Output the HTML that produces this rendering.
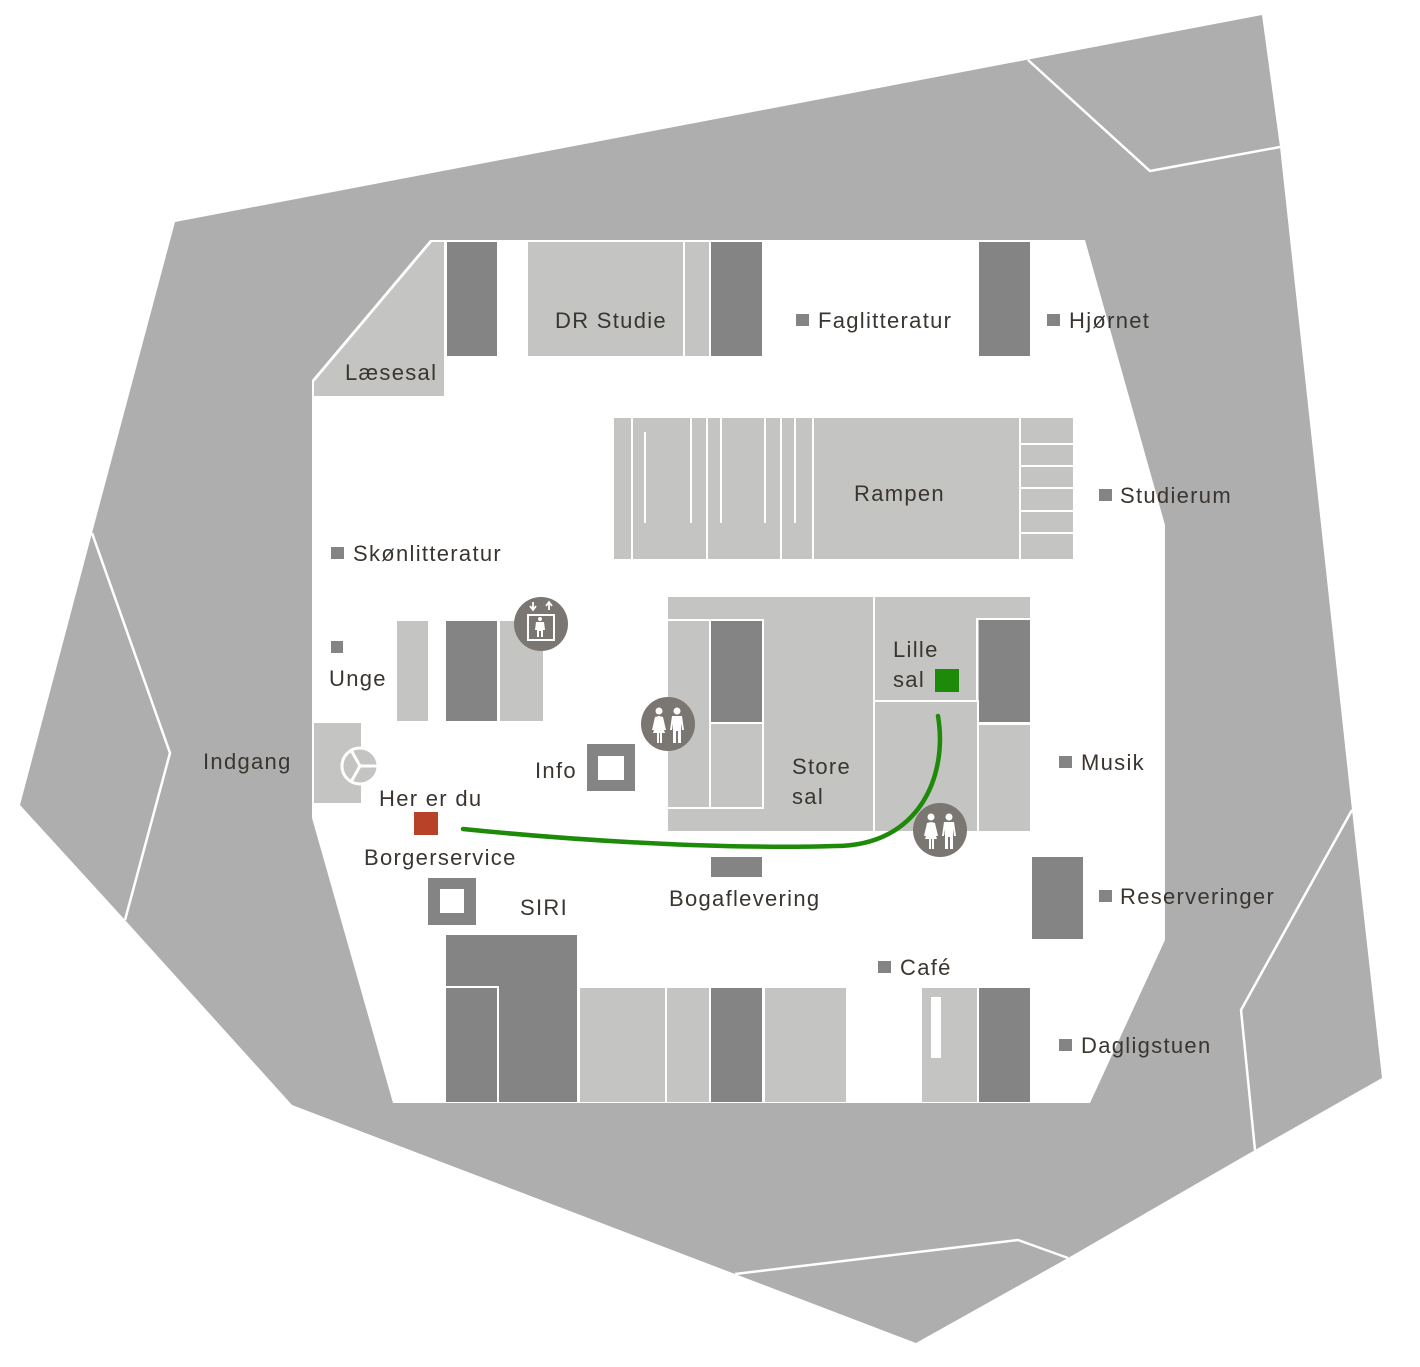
<!DOCTYPE html>
<html><head><meta charset="utf-8"><style>
html,body{margin:0;padding:0;background:#fff}
svg{display:block}
text{font-family:"Liberation Sans",sans-serif;font-size:22px;fill:#3a3530;letter-spacing:1.3px}
</style></head><body>
<svg width="1420" height="1367" viewBox="0 0 1420 1367" xmlns="http://www.w3.org/2000/svg">
<defs>
<g id="wc">
<circle r="27" fill="#7a7672"/>
<circle cx="-9" cy="-13" r="3.5" fill="#fff"/>
<path d="M-9,-8 L-13,-7 L-16,6 L-13,6 L-12,0 L-15,9 L-11,9 L-11,19 L-9,19 L-9,9 L-8,9 L-8,19 L-6,19 L-6,9 L-3,9 L-6,0 L-5,6 L-2,6 L-5,-7 Z" fill="#fff"/>
<circle cx="9" cy="-13" r="3.5" fill="#fff"/>
<path d="M4,-8 L14,-8 L16,6 L14,6 L13,-1 L13,19 L10,19 L10,7 L8,7 L8,19 L5,19 L5,-1 L4,6 L2,6 Z" fill="#fff"/>
</g>
</defs>
<polygon points="175,222 1262,15 1280,147 1352,810 1382,1078 1255,1150 1068,1258 916,1343 735,1274 292,1105 125,920 20,805 92,533" fill="#aeaeae"/>
<g fill="none" stroke="#fff" stroke-width="2.5">
<polyline points="1028,60 1150,171 1280,147"/>
<polyline points="92,533 170,753 125,920"/>
<polyline points="1352,810 1241,1010 1255,1150"/>
<polyline points="735,1274 1018,1240 1068,1258"/>
</g>
<polygon points="430,240 1085,240 1165,525 1165,940 1090,1103 393,1103 312,818 312,380" fill="#fff"/>
<polygon points="314,382 432,242 444,242 444,396 314,396" fill="#c4c4c2"/>
<g fill="#848484">
<rect x="447" y="242" width="50" height="114"/>
<rect x="711" y="242" width="51" height="114"/>
<rect x="979" y="242" width="51" height="114"/>
</g>
<g fill="#c4c4c2">
<rect x="528" y="242" width="155" height="114"/>
<rect x="685" y="242" width="24" height="114"/>
</g>
<rect x="614" y="418" width="459" height="141" fill="#c4c4c2"/>
<g stroke="#fff" stroke-width="2">
<line x1="632" y1="418" x2="632" y2="559"/>
<line x1="707" y1="418" x2="707" y2="559"/>
<line x1="781" y1="418" x2="781" y2="559"/>
<line x1="813" y1="418" x2="813" y2="559"/>
<line x1="1020" y1="418" x2="1020" y2="559"/>
<line x1="645" y1="432" x2="645" y2="523"/>
<line x1="691" y1="418" x2="691" y2="523"/>
<line x1="721" y1="418" x2="721" y2="523"/>
<line x1="765" y1="418" x2="765" y2="523"/>
<line x1="795" y1="418" x2="795" y2="523"/>
<line x1="1020" y1="444" x2="1073" y2="444"/>
<line x1="1020" y1="466" x2="1073" y2="466"/>
<line x1="1020" y1="488" x2="1073" y2="488"/>
<line x1="1020" y1="511" x2="1073" y2="511"/>
<line x1="1020" y1="533" x2="1073" y2="533"/>
</g>
<rect x="668" y="597" width="205" height="234" fill="#c4c4c2"/>
<rect x="875" y="597" width="155" height="103" fill="#c4c4c2"/>
<rect x="875" y="702" width="102" height="129" fill="#c4c4c2"/>
<rect x="979" y="725" width="51" height="106" fill="#c4c4c2"/>
<rect x="979" y="620" width="51" height="102" fill="#848484"/>
<rect x="711" y="621" width="51" height="101" fill="#848484"/>
<g stroke="#fff" stroke-width="2" fill="none">
<polyline points="668,620 763,620 763,808 668,808"/>
<line x1="710" y1="620" x2="710" y2="808"/>
<line x1="710" y1="723" x2="763" y2="723"/>
<polyline points="977,700 977,619 1030,619"/>
</g>
<rect x="935" y="669" width="24" height="23" fill="#1e8a0a"/>
<rect x="331" y="641" width="12" height="12" fill="#848484"/>
<rect x="397" y="621" width="31" height="100" fill="#c4c4c2"/>
<rect x="446" y="621" width="51" height="100" fill="#848484"/>
<rect x="500" y="621" width="43" height="100" fill="#c4c4c2"/>
<circle cx="541" cy="624" r="27" fill="#7a7672"/>
<rect x="528" y="615" width="26" height="25" fill="none" stroke="#fff" stroke-width="2"/>
<circle cx="540" cy="619" r="2" fill="#fff"/>
<path d="M536,622 L544,622 L545,630 L543,630 L543,637 L541,637 L541,631 L539,631 L539,637 L537,637 L537,630 L535,630 Z" fill="#fff"/>
<path d="M533,602 L533,609 M530,606 L533,610 L536,606 M549,610 L549,603 M546,606 L549,602 L552,606" stroke="#fff" stroke-width="1.8" fill="none"/>
<rect x="314" y="723" width="47" height="80" fill="#c4c4c2"/>
<circle cx="360" cy="766" r="18" fill="#c4c4c2" stroke="#fff" stroke-width="3"/>
<g stroke="#fff" stroke-width="3"><line x1="360" y1="766" x2="378" y2="766"/><line x1="360" y1="766" x2="351" y2="750"/><line x1="360" y1="766" x2="351" y2="782"/></g>
<rect x="587" y="744" width="48" height="47" fill="#848484"/><rect x="598" y="756" width="26" height="24" fill="#fff"/>
<rect x="428" y="878" width="48" height="47" fill="#848484"/><rect x="440" y="889" width="24" height="24" fill="#fff"/>
<rect x="414" y="812" width="24" height="23" fill="#b84228"/>
<rect x="711" y="857" width="51" height="20" fill="#848484"/>
<rect x="1032" y="857" width="51" height="82" fill="#848484"/>
<rect x="446" y="935" width="131" height="167" fill="#848484"/>
<polyline points="446,987 498,987 498,1102" stroke="#fff" stroke-width="2" fill="none"/>
<rect x="580" y="988" width="85" height="114" fill="#c4c4c2"/>
<rect x="667" y="988" width="42" height="114" fill="#c4c4c2"/>
<rect x="711" y="988" width="51" height="114" fill="#848484"/>
<rect x="765" y="988" width="81" height="114" fill="#c4c4c2"/>
<rect x="922" y="988" width="55" height="114" fill="#c4c4c2"/>
<rect x="931" y="997" width="10" height="61" fill="#fff"/>
<rect x="979" y="988" width="51" height="114" fill="#848484"/>
<path d="M463,829 C600,843 740,849 835,846 C920,846 948,775 938,716" fill="none" stroke="#1e8a0a" stroke-width="4.5" stroke-linecap="round"/>
<use href="#wc" x="668" y="724"/>
<use href="#wc" x="940" y="830"/>
<g fill="#848484">
<rect x="796" y="314" width="13" height="12"/>
<rect x="1047" y="314" width="13" height="12"/>
<rect x="1099" y="489" width="13" height="12"/>
<rect x="331" y="547" width="13" height="12"/>
<rect x="1059" y="756" width="13" height="12"/>
<rect x="1099" y="890" width="13" height="12"/>
<rect x="878" y="961" width="13" height="12"/>
<rect x="1059" y="1039" width="13" height="12"/>
</g>
<text x="555" y="328">DR Studie</text>
<text x="818" y="328">Faglitteratur</text>
<text x="1069" y="328">Hjørnet</text>
<text x="345" y="380">Læsesal</text>
<text x="854" y="501">Rampen</text>
<text x="1120" y="503">Studierum</text>
<text x="353" y="561">Skønlitteratur</text>
<text x="329" y="686">Unge</text>
<text x="893" y="657">Lille</text>
<text x="893" y="687">sal</text>
<text x="203" y="769">Indgang</text>
<text x="535" y="778">Info</text>
<text x="792" y="774">Store</text>
<text x="792" y="804">sal</text>
<text x="1081" y="770">Musik</text>
<text x="379" y="806">Her er du</text>
<text x="364" y="865">Borgerservice</text>
<text x="520" y="915">SIRI</text>
<text x="669" y="906">Bogaflevering</text>
<text x="1120" y="904">Reserveringer</text>
<text x="900" y="975">Café</text>
<text x="1081" y="1053">Dagligstuen</text>
</svg>
</body></html>
